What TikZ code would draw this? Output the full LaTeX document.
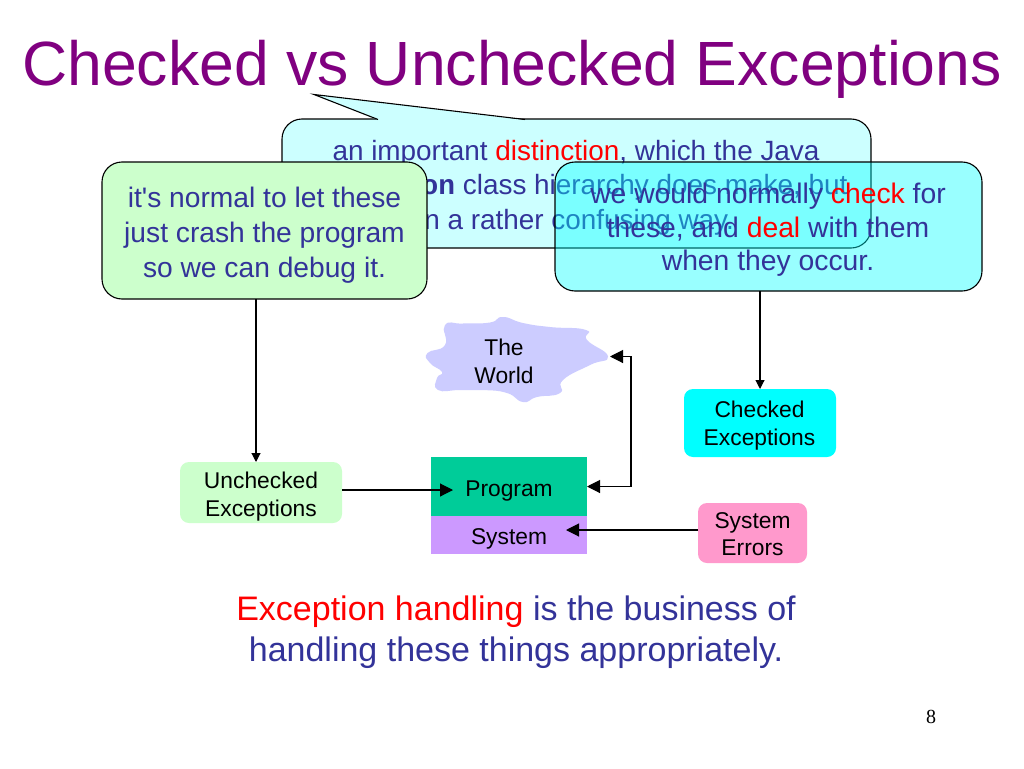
\documentclass[tikz,border=0pt]{standalone}
\usepackage{fontspec}
\setmainfont[Ligatures=TeXOff]{Liberation Sans}
\newfontfamily\codefont{Liberation Mono}
\newfontfamily\numfont{Liberation Serif}
\usetikzlibrary{arrows.meta}
\definecolor{ink}{HTML}{333399}
\definecolor{hot}{HTML}{FF0000}
\definecolor{titlecol}{HTML}{800080}
\definecolor{palecyan}{HTML}{CCFFFF}
\definecolor{palegreen}{HTML}{CCFFCC}
\definecolor{aqua}{HTML}{00FFFF}
\definecolor{sea}{HTML}{00CC99}
\definecolor{lilac}{HTML}{CC99FF}
\definecolor{pinkish}{HTML}{FF99CC}
\definecolor{cloudcol}{HTML}{CCCCFF}
\tikzset{
  x=1pt,y=-1pt,
  every node/.style={inner sep=0pt,outer sep=0pt},
  notebox/.style={draw=black,line width=1.1pt,rounded corners=20pt},
  notetext/.style={align=center,text=ink},
  smallbox/.style={rounded corners=9pt,minimum height=#1},
  label/.style={align=center,text=black,font=\fontsize{22.8}{28}\selectfont},
  conn/.style={draw=black,line width=1.1pt,-{Triangle[length=13pt,width=13pt]}},
  thin conn/.style={draw=black,line width=1.1pt,-{Triangle[length=9pt,width=9pt]}},
  conn2/.style={draw=black,line width=1.1pt,{Triangle[length=13pt,width=13pt]}-{Triangle[length=13pt,width=13pt]}},
}
\begin{document}
\begin{tikzpicture}
\useasboundingbox (0,0) rectangle (1024,768);
\fill[white] (0,0) rectangle (1024,768);
\node[font=\fontsize{62.5}{70}\selectfont,text=titlecol] (title) at (512,69) {Checked vs Unchecked Exceptions};
% callout
\draw[notebox,fill=palecyan] (282,119) rectangle (871,248);
\fill[palecyan] (378,120) -- (314,94.5) -- (525,120) -- cycle;
\draw[black,line width=1.1pt,line join=miter] (378,119.5) -- (314,94.5) -- (525,119.5);
\node[notetext,font=\fontsize{27.9}{34.5}\selectfont] (note) at (576,187.5) {an important {\color{hot}distinction}, which the Java\\
{\codefont\bfseries Exception} class hierarchy does make, but\\
in a rather confusing way.};
% left box
\node[notebox,fill=palegreen,minimum width=325pt,minimum height=137pt,anchor=north west] (crashbox) at (102,162) {};
\node[notetext,font=\fontsize{28.2}{35}\selectfont] (crash) at (264.5,235) {it's normal to let these\\just crash the program\\so we can debug it.};
% right box
\node[notebox,fill=aqua,fill opacity=0.4,minimum width=427pt,minimum height=129pt,anchor=north west] (checkbox) at (555,162) {};
\node[notetext,font=\fontsize{28.3}{33.5}\selectfont] (check) at (768,230) {we would normally {\color{hot}check} for\\these, and {\color{hot}deal} with them\\when they occur.};
% cloud
\fill[cloudcol] plot[smooth cycle,tension=0.9] coordinates {
 (427.5,353) (445,345) (445,325) (463,323.5) (490,322.5) (503,317) (523,323) (550,327) (586,330) (587,340)
 (608,356.5) (590,365) (563,380) (560,393) (537,397) (523,402) (507,393) (483,390) (460,390) (438,390) (437,378) (442,372) (430,363)};
\node[label] (world) at (504,361) {The\\World};
\coordinate (cloudtip) at (610,356.5);
% small boxes
\node[smallbox=68pt,fill=aqua,minimum width=152pt,anchor=north west] (checked) at (684,389) {};
\node[label] (checkedt) at (759.5,426) {Checked\\Exceptions};
\node[smallbox=61pt,fill=palegreen,minimum width=162pt,anchor=north west] (unchecked) at (180,462) {};
\node[label] (uncheckedt) at (261,496.5) {Unchecked\\Exceptions};
\node[smallbox=60pt,fill=pinkish,minimum width=109pt,anchor=north west] (errors) at (698,503) {};
\node[label,font=\fontsize{22.8}{27}\selectfont] (errorst) at (752.5,534.5) {System\\Errors};
\node[fill=sea,minimum width=156pt,minimum height=59pt,anchor=north west] (program) at (431,457) {};
\node[fill=lilac,minimum width=156pt,minimum height=38pt,anchor=north west] (system) at (431,516) {};
\node[label] (programt) at (509,491) {Program};
\node[label] (systemt) at (509,539) {System};
% connectors
\draw[thin conn] ([xshift=-8.5pt]crashbox.south) -- ([xshift=-5pt]unchecked.north);
\draw[thin conn] (checked.north |- checkbox.south) -- (checked.north);
\coordinate (progin) at (453,490);
\coordinate (uncout) at (unchecked.east |- progin);
\draw[conn] (uncout) -- (progin);
\coordinate (elbow) at (631,420);
\draw[conn2] (cloudtip) -| (elbow) |- (program.east);
\coordinate (sysin) at (566,530);
\coordinate (errout) at (errors.west |- sysin);
\draw[conn] (errout) -- (sysin);
% bottom text
\node[align=center,font=\fontsize{34}{41}\selectfont,text=ink] (bottom) at (516,632) {{\color{hot}Exception handling} is the business of\\handling these things appropriately.};
\node[font=\fontsize{20}{24}\numfont,text=black] (pageno) at (931,717) {8};
\end{tikzpicture}
\end{document}
